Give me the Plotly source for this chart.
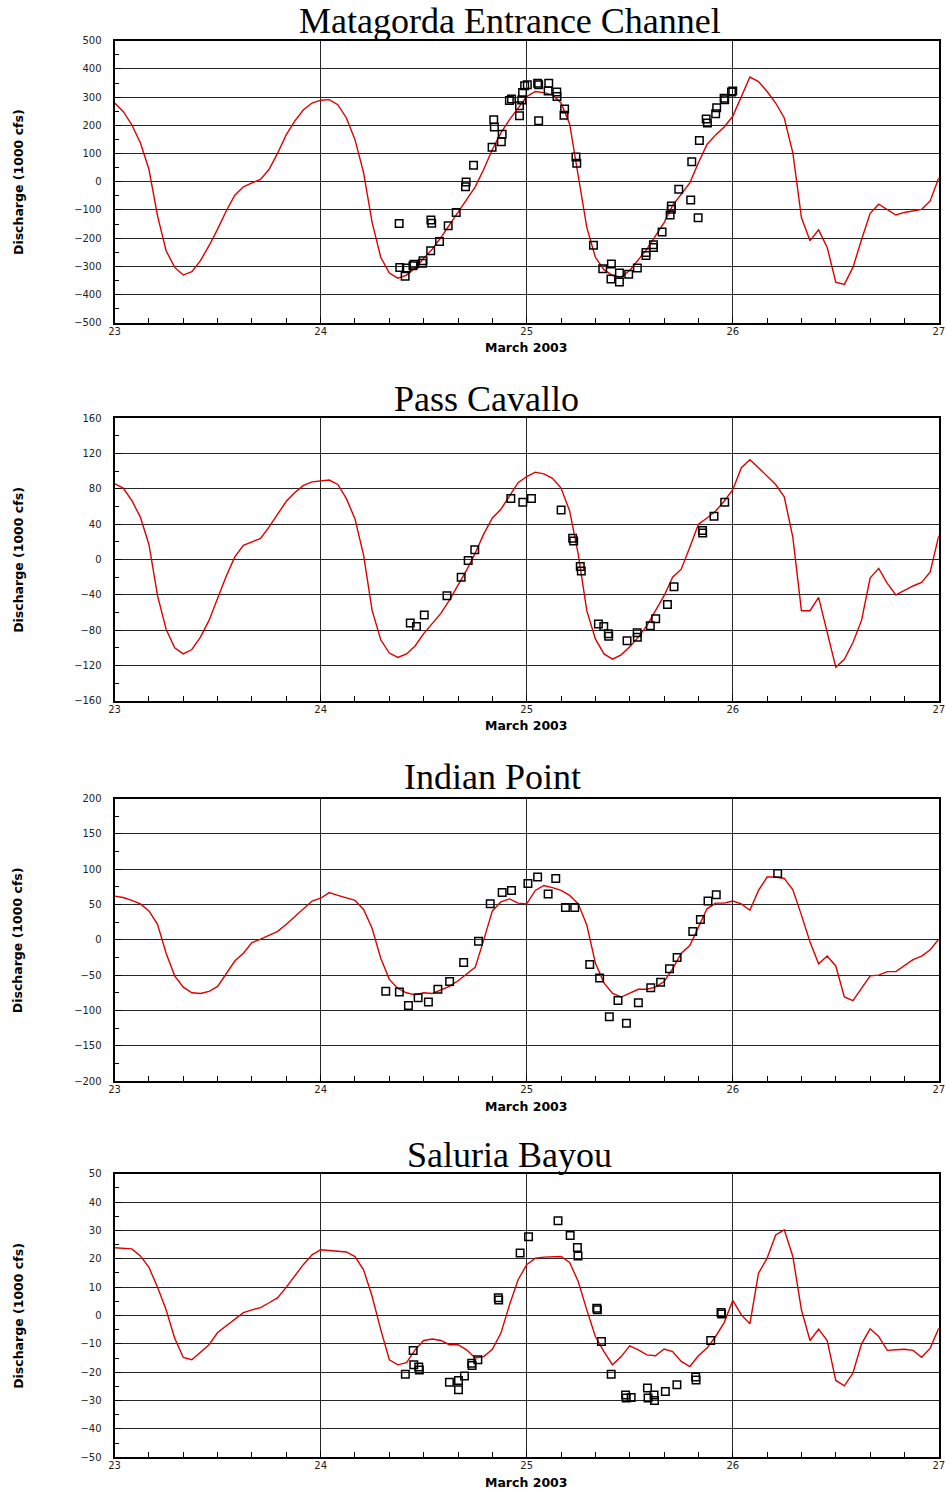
import numpy as np
import plotly.graph_objects as go

# ---------------------------------------------------------------------------
# Hourly model discharge, 23-27 March 2003 (1000 cfs)
# ---------------------------------------------------------------------------
MODEL_DAY = 23 + np.arange(97) / 24.0

MATAGORDA_MODEL = [
    279, 249, 202, 138, 44, -121, -245, -304, -331, -319, -280, -227, -168,
    -104, -48, -18, -4, 8, 44, 102, 167, 216, 255, 279, 289, 291, 273, 226,
    149, 32, -145, -268, -324, -342, -331, -307, -272, -239, -198, -154, -109,
    -62, -18, 44, 114, 173, 220, 261, 302,
    320, 316, 308, 279, 205, 18, -162, -268, -312, -333, -338, -315, -276,
    -239, -192, -145, -84, -45, -4, 67, 132, 166, 194, 232, 302, 371, 355,
    320, 279, 226, 102, -127, -209, -171, -233, -356, -364, -304, -206, -112,
    -80, -100, -118, -109, -104, -98, -68, 14,
]

CAVALLO_MODEL = [
    86, 81, 67, 48, 17, -41, -79, -100, -107, -102, -88, -69, -44, -19, 3,
    16, 20, 24, 37, 52, 66, 76, 84, 88, 89, 90, 85, 69, 46, 5, -58, -91,
    -106, -111, -107, -98, -84, -73, -61, -46, -29, -12, 7, 29, 47, 57, 72,
    87, 94,
    99, 97, 92, 81, 55, 6, -58, -90, -107, -113, -108, -99, -88, -75, -58,
    -41, -20, -11, 14, 40, 47, 55, 66, 79, 104, 113, 104, 95, 85, 71, 25,
    -58, -58, -43, -82, -122, -113, -94, -69, -21, -10, -27, -40, -35, -30,
    -26, -14, 27,
]

INDIAN_MODEL = [
    62, 60, 56, 51, 41, 22, -19, -51, -67, -75, -76, -73, -66, -48, -30,
    -19, -4, 1, 7, 12, 22, 33, 44, 55, 59, 67, 63, 59, 56, 43, 16, -26, -56,
    -69, -75, -78, -75, -76, -71, -66, -58, -49, -39, 0, 41, 54, 58, 52, 51,
    70, 77, 74, 70, 63, 51, 21, -33, -61, -76, -81, -76, -70, -70, -67, -59,
    -41, -19, -8, 18, 44, 52, 52, 55, 51, 42, 70, 89, 89, 87, 71, 35, -3,
    -34, -23, -37, -81, -86, -69, -51, -50, -45, -45, -36, -28, -23, -14, 1,
]

SALURIA_MODEL = [
    23.9, 23.8, 23.5, 21.0, 17.0, 10.0, 2.0, -8.0, -14.8, -15.6, -13.0,
    -10.3, -6.0, -3.6, -1.5, 1.0, 2.0, 2.8, 4.5, 6.3, 10.0, 14.0, 18.0, 21.4,
    23.2, 22.9, 22.6, 22.4, 20.8, 16.1, 6.7, -5.0, -15.6, -17.4, -16.6,
    -12.1, -8.8, -8.3, -8.8, -10.3, -10.3, -12.1, -15.0, -14.5, -11.9, -6.2,
    3.8, 12.6, 17.9,
    20.2, 20.6, 20.7, 20.8, 18.7, 12.0, 2.0, -7.4, -12.7, -17.4, -14.5,
    -10.7, -12.1, -13.9, -14.2, -11.8, -12.7, -16.2, -18.0, -14.2, -11.5,
    -7.4, -2.5, 5.3, 0.2, -2.9, 14.9, 20.2, 28.4, 30.2, 20.8, 2.0, -8.8,
    -4.8, -8.8, -22.9, -24.8, -20.3, -10.0, -4.7, -7.4, -12.3, -12.1, -11.9,
    -12.3, -14.7, -11.5, -4.5,
]

# ---------------------------------------------------------------------------
# Measured discharge (day of March 2003, 1000 cfs)
# ---------------------------------------------------------------------------
MATAGORDA_OBS_DAY = [
    24.381, 24.384, 24.410, 24.416, 24.448, 24.453, 24.494, 24.497, 24.534,
    24.535, 24.539, 24.577, 24.619, 24.658, 24.703, 24.706, 24.742, 24.832,
    24.840, 24.843, 24.877, 24.881, 24.916, 24.926, 24.965, 24.965, 24.976,
    24.980, 24.990, 25.003, 25.053, 25.058, 25.058, 25.104, 25.107, 25.146,
    25.147, 25.181, 25.184, 25.239, 25.243, 25.324, 25.369, 25.409, 25.411,
    25.450, 25.450, 25.495, 25.537, 25.579, 25.579, 25.615, 25.615, 25.657,
    25.696, 25.702, 25.702, 25.738, 25.796, 25.801, 25.832, 25.838, 25.871,
    25.877, 25.917, 25.922, 25.958, 25.961, 25.994, 26.000,
]
MATAGORDA_OBS_Q = [
    -148, -304, -335, -306, -298, -293, -289, -280, -245, -136, -147, -212,
    -156, -109, -18, -1, 58, 122, 220, 194, 142, 168, 288, 293, 234, 269, 290,
    316, 340, 344, 349, 344, 216, 322, 349, 318, 302, 236, 258, 88, 65, -225,
    -309, -345, -292, -324, -356, -328, -306, -262, -251, -224, -233, -178,
    -118, -98, -86, -27, -65, 71, -128, 146, 222, 208, 241, 262, 296, 291,
    318, 322,
]

CAVALLO_OBS_DAY = [
    24.435, 24.465, 24.503, 24.613, 24.682, 24.716, 24.748, 24.923, 24.981,
    25.023, 25.167, 25.223, 25.228, 25.260, 25.265, 25.348, 25.374, 25.396,
    25.398, 25.487, 25.536, 25.537, 25.600, 25.626, 25.683, 25.715, 25.853,
    25.854, 25.909, 25.961,
]
CAVALLO_OBS_Q = [
    -72, -76, -63, -41, -20, -1, 11, 69, 65, 69, 56, 24, 21, -8, -13, -73,
    -76, -84, -87, -92, -83, -88, -75, -67, -51, -31, 33, 30, 49, 65,
]

INDIAN_OBS_DAY = [
    24.316, 24.382, 24.426, 24.473, 24.523, 24.569, 24.626, 24.694, 24.766,
    24.823, 24.881, 24.926, 25.006, 25.053, 25.104, 25.141, 25.188, 25.233,
    25.306, 25.354, 25.401, 25.443, 25.484, 25.542, 25.602, 25.650, 25.693,
    25.730, 25.806, 25.843, 25.880, 25.920, 26.218,
]
INDIAN_OBS_Q = [
    -73, -74, -93, -82, -88, -70, -59, -32, -2, 51, 67, 70, 80, 89, 65, 87,
    46, 46, -35, -54, -109, -86, -118, -89, -68, -60, -41, -25, 12, 29, 55,
    64, 94,
]

SALURIA_OBS_DAY = [
    24.411, 24.449, 24.452, 24.476, 24.479, 24.625, 24.669, 24.669, 24.698,
    24.733, 24.735, 24.763, 24.862, 24.864, 24.968, 25.009, 25.152, 25.211,
    25.246, 25.249, 25.340, 25.343, 25.363, 25.410, 25.480, 25.483, 25.507,
    25.586, 25.589, 25.618, 25.620, 25.673, 25.729, 25.820, 25.822, 25.893,
    25.943, 25.946,
]
SALURIA_OBS_Q = [
    -20.7, -12.3, -17.4, -18.2, -19.2, -23.5, -22.9, -26.2, -21.3, -16.8,
    -17.6, -15.6, 6.3, 5.5, 22.0, 27.8, 33.4, 28.2, 24.0, 21.0, 2.6, 2.0,
    -9.2, -20.7, -28.0, -29.1, -28.9, -25.6, -29.1, -28.0, -30.0, -26.8,
    -24.4, -21.7, -22.7, -8.8, 1.1, 0.5,
]

STATION_NAMES = [
    "Matagorda Entrance Channel",
    "Pass Cavallo",
    "Indian Point",
    "Saluria Bayou",
]
MODEL_SERIES = [MATAGORDA_MODEL, CAVALLO_MODEL, INDIAN_MODEL, SALURIA_MODEL]
OBS_DAYS = [MATAGORDA_OBS_DAY, CAVALLO_OBS_DAY, INDIAN_OBS_DAY, SALURIA_OBS_DAY]
OBS_VALUES = [MATAGORDA_OBS_Q, CAVALLO_OBS_Q, INDIAN_OBS_Q, SALURIA_OBS_Q]

DAY_TICKS = [23, 24, 25, 26, 27]
X_TITLE = "March 2003"
Y_TITLE = "Discharge (1000 cfs)"

# ---------------------------------------------------------------------------
# Page geometry (pixels) and styling
# ---------------------------------------------------------------------------
W, H = 946, 1492
PLOT_LEFT, PLOT_RIGHT = 114.6, 938.8
PANEL_BOX = [(40.7, 322.7), (418.3, 700.7), (798.7, 1081.0), (1173.7, 1457.3)]
Y_AXES = [(-500, 500, 100), (-160, 160, 40), (-200, 200, 50), (-50, 50, 10)]
TITLE_POS = [(510, 21), (486, 398.5), (492, 777), (509, 1155)]

RED = "#dd0000"
GRID = "#262626"
TICK_FONT = dict(family="DejaVu Sans", size=10, color="#222222")
AXIS_TITLE_FONT = dict(family="DejaVu Sans", size=12.5, color="black", weight="bold")
STATION_FONT = dict(family="Liberation Serif", size=36, color="black")


def px_x(x):
    return x / W


def px_y(y):
    return 1 - y / H


fig = go.Figure()
layout = dict(
    width=W,
    height=H,
    margin=dict(l=0, r=0, t=0, b=0, pad=0, autoexpand=False),
    paper_bgcolor="white",
    plot_bgcolor="white",
    showlegend=False,
    annotations=[],
)

for i in range(4):
    n = "" if i == 0 else str(i + 1)
    xa, ya = "x" + n, "y" + n
    top, bottom = PANEL_BOX[i]
    ymin, ymax, ystep = Y_AXES[i]

    fig.add_trace(go.Scatter(
        x=MODEL_DAY, y=MODEL_SERIES[i], mode="lines",
        line=dict(color=RED, width=1.4), xaxis=xa, yaxis=ya,
        hoverinfo="skip",
    ))
    fig.add_trace(go.Scatter(
        x=OBS_DAYS[i], y=OBS_VALUES[i], mode="markers",
        marker=dict(symbol="square-open", size=7.5, color="black",
                    line=dict(width=1.5)),
        xaxis=xa, yaxis=ya, hoverinfo="skip",
    ))

    layout["xaxis" + n] = dict(
        domain=[px_x(PLOT_LEFT), px_x(PLOT_RIGHT)],
        anchor=ya,
        automargin=False,
        range=[23, 27],
        tickmode="array",
        tickvals=DAY_TICKS,
        ticktext=[str(d) for d in DAY_TICKS],
        ticks="inside", ticklen=6, tickwidth=1, tickcolor="black",
        minor=dict(dtick=1 / 6, tick0=23, ticks="inside", ticklen=5,
                   tickwidth=1, tickcolor="black", showgrid=False),
        showgrid=True, gridcolor=GRID, gridwidth=1,
        showline=True, linecolor="black", linewidth=2, mirror=True,
        zeroline=False,
        tickfont=TICK_FONT,
        ticklabelstandoff=-2,
        fixedrange=True,
    )
    layout["yaxis" + n] = dict(
        domain=[px_y(bottom), px_y(top)],
        anchor=xa,
        automargin=False,
        range=[ymin, ymax],
        tickmode="linear", tick0=ymin, dtick=ystep,
        ticks="inside", ticklen=6, tickwidth=1, tickcolor="black",
        minor=dict(dtick=ystep / 2, ticks="inside", ticklen=4,
                   tickwidth=1, tickcolor="black", showgrid=False),
        showgrid=True, gridcolor=GRID, gridwidth=1,
        showline=True, linecolor="black", linewidth=2, mirror=True,
        zeroline=False,
        tickfont=TICK_FONT,
        ticklabelstandoff=9,
        fixedrange=True,
    )

    tx, ty = TITLE_POS[i]
    layout["annotations"] += [
        dict(text=STATION_NAMES[i], xref="paper", yref="paper",
             x=px_x(tx), y=px_y(ty), xanchor="center", yanchor="middle",
             showarrow=False, font=STATION_FONT),
        dict(text=X_TITLE, xref="paper", yref="paper",
             x=px_x(526.5), y=px_y(bottom + 25), xanchor="center",
             yanchor="middle", showarrow=False, font=AXIS_TITLE_FONT),
        dict(text=Y_TITLE, xref="paper", yref="paper", textangle=-90,
             x=px_x(18.3), y=px_y((top + bottom) / 2), xanchor="center",
             yanchor="middle", showarrow=False, font=AXIS_TITLE_FONT),
    ]

fig.update_layout(**layout)
fig.write_html("out.html")
